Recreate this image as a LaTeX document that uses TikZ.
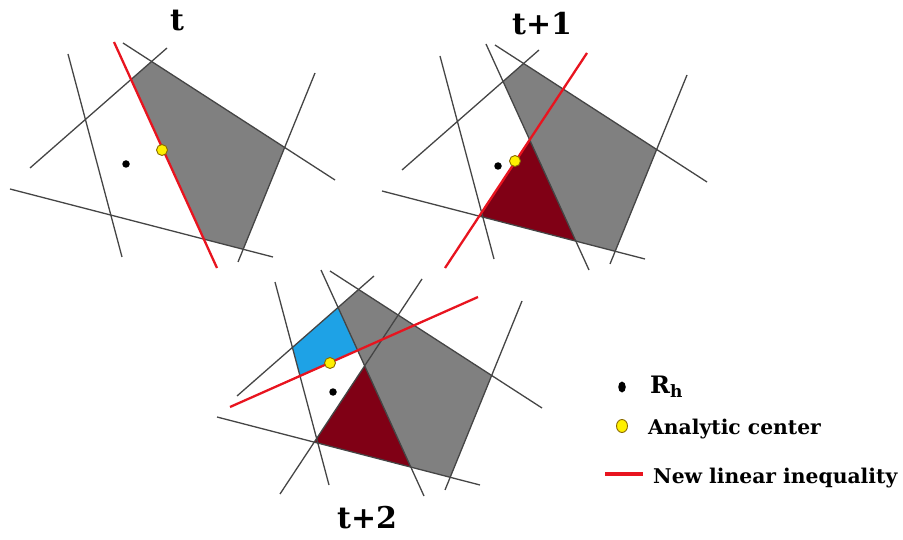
\documentclass[tikz,border=0pt]{standalone}
\usepackage{fontspec}
\newfontfamily\figfont{DejaVu Serif}
\usetikzlibrary{positioning,shapes.geometric}
\definecolor{lineGray}{HTML}{454545}
\definecolor{keptGray}{HTML}{808080}
\definecolor{cutRed}{HTML}{E8141F}
\definecolor{droppedRed}{HTML}{800015}
\definecolor{newBlue}{HTML}{1EA2E6}
\definecolor{acYellow}{HTML}{FFF000}
\definecolor{acRing}{HTML}{8A6A00}

% Constraint lines and their corners, the same in every panel.
\newcommand{\setpanel}[1]{%
  \coordinate (#1-l1a) at (123,43);  \coordinate (#1-l1b) at (335,180);
  \coordinate (#1-l2a) at (167,48);  \coordinate (#1-l2b) at (30,168);
  \coordinate (#1-l3a) at (68,54);   \coordinate (#1-l3b) at (122,257);
  \coordinate (#1-l4a) at (10,189);  \coordinate (#1-l4b) at (273,257);
  \coordinate (#1-l5a) at (315,73);  \coordinate (#1-l5b) at (238,262);
  \coordinate (#1-c1a) at (114,42);  \coordinate (#1-c1b) at (217,268);
  \coordinate (#1-c2a) at (215,51);  \coordinate (#1-c2b) at (73,266);
  \coordinate (#1-c3a) at (271,69);  \coordinate (#1-c3b) at (23,179);
  \coordinate (#1-v12) at (intersection of #1-l1a--#1-l1b and #1-l2a--#1-l2b);
  \coordinate (#1-v2c) at (intersection of #1-l2a--#1-l2b and #1-c1a--#1-c1b);
  \coordinate (#1-vc4) at (intersection of #1-c1a--#1-c1b and #1-l4a--#1-l4b);
  \coordinate (#1-v45) at (intersection of #1-l4a--#1-l4b and #1-l5a--#1-l5b);
  \coordinate (#1-v51) at (intersection of #1-l5a--#1-l5b and #1-l1a--#1-l1b);
  \coordinate (#1-vcc) at (intersection of #1-c1a--#1-c1b and #1-c2a--#1-c2b);
  \coordinate (#1-v2c4) at (intersection of #1-c2a--#1-c2b and #1-l4a--#1-l4b);
  \coordinate (#1-v23) at (intersection of #1-l2a--#1-l2b and #1-l3a--#1-l3b);
  \coordinate (#1-vc3) at (intersection of #1-c1a--#1-c1b and #1-c3a--#1-c3b);
  \coordinate (#1-v3c3) at (intersection of #1-c3a--#1-c3b and #1-l3a--#1-l3b);
}

\begin{document}
\begin{tikzpicture}[
  x=1pt, y=-1pt,
  constraint/.style={draw=lineGray, line width=1.3pt},
  newcut/.style={draw=cutRed, line width=2.3pt},
  rhmark/.style={circle, fill=black, inner sep=0pt, minimum size=7.5pt},
  acmark/.style={circle, draw=acRing, fill=acYellow, line width=0.9pt,
    inner sep=0pt, minimum size=11pt},
  steptitle/.style={font={\figfont\bfseries\fontsize{30}{32}\selectfont},
    inner sep=0pt, anchor=base west},
  keytext/.style={font={\figfont\bfseries\fontsize{20.3}{23}\selectfont},
    inner sep=0pt, anchor=base west}
]
\useasboundingbox (0,0) rectangle (903,540);

% Step t: the first cut through the polytope.
\begin{scope}
  \setpanel{p1}
  \fill[keptGray] (p1-v12) -- (p1-v2c) -- (p1-vc4) -- (p1-v45) -- (p1-v51) -- cycle;
  \foreach \bnd in {l1,l2,l3,l4,l5}
    \draw[constraint] (p1-\bnd a) -- (p1-\bnd b);
  \draw[newcut] (p1-c1a) -- (p1-c1b);
  \node[rhmark] (p1-rh) at (126,164) {};
  \node[acmark] (p1-ac) at (162,150) {};
  \node[steptitle] (p1-title) at (170,31) {t};
\end{scope}

% Step t+1: the old cut is now a constraint.
\begin{scope}[shift={(372,2)}]
  \setpanel{p2}
  \fill[keptGray] (p2-v12) -- (p2-v2c) -- (p2-vc4) -- (p2-v45) -- (p2-v51) -- cycle;
  \fill[droppedRed] (p2-vcc) -- (p2-v2c4) -- (p2-vc4) -- cycle;
  \foreach \bnd in {l1,l2,l3,l4,l5,c1}
    \draw[constraint] (p2-\bnd a) -- (p2-\bnd b);
  \draw[newcut] (p2-c2a) -- (p2-c2b);
  \node[rhmark] (p2-rh) at (126,164) {};
  \node[acmark] (p2-ac) at (143,159) {};
  \node[steptitle] (p2-title) at (140,33) {t+1};
\end{scope}

% Step t+2.
\begin{scope}[shift={(207,228)}]
  \setpanel{p3}
  \fill[keptGray] (p3-v12) -- (p3-v2c) -- (p3-vc4) -- (p3-v45) -- (p3-v51) -- cycle;
  \fill[droppedRed] (p3-vcc) -- (p3-v2c4) -- (p3-vc4) -- cycle;
  \fill[newBlue] (p3-v23) -- (p3-v2c) -- (p3-vc3) -- (p3-v3c3) -- cycle;
  \foreach \bnd in {l1,l2,l3,l4,l5,c1,c2}
    \draw[constraint] (p3-\bnd a) -- (p3-\bnd b);
  \draw[newcut] (p3-c3a) -- (p3-c3b);
  \node[rhmark] (p3-rh) at (126,164) {};
  \node[acmark] (p3-ac) at (123,135) {};
  \node[steptitle] (p3-title) at (130,300) {t+2};
\end{scope}

% Legend.
\node[ellipse, fill=black, inner sep=0pt, minimum width=7.5pt, minimum height=11pt]
  (key-rh) at (622,387) {};
\node[keytext, font={\figfont\bfseries\fontsize{24}{26}\selectfont}] (key-rh-text) at (650,393)
  {R\raisebox{-4pt}{\fontsize{17}{19}\selectfont h}};
\node[ellipse, draw=acRing, fill=acYellow, line width=0.9pt, inner sep=0pt,
  minimum width=11pt, minimum height=13pt] (key-ac) at (622,426) {};
\node[keytext] (key-ac-text) at (648,434) {Analytic center};
\coordinate (key-cut-a) at (605,474);
\coordinate (key-cut-b) at (643,474);
\draw[newcut, line width=3.5pt] (key-cut-a) -- (key-cut-b);
\node[keytext] (key-cut-text) at (653,483) {New linear inequality};
\end{tikzpicture}
\end{document}
